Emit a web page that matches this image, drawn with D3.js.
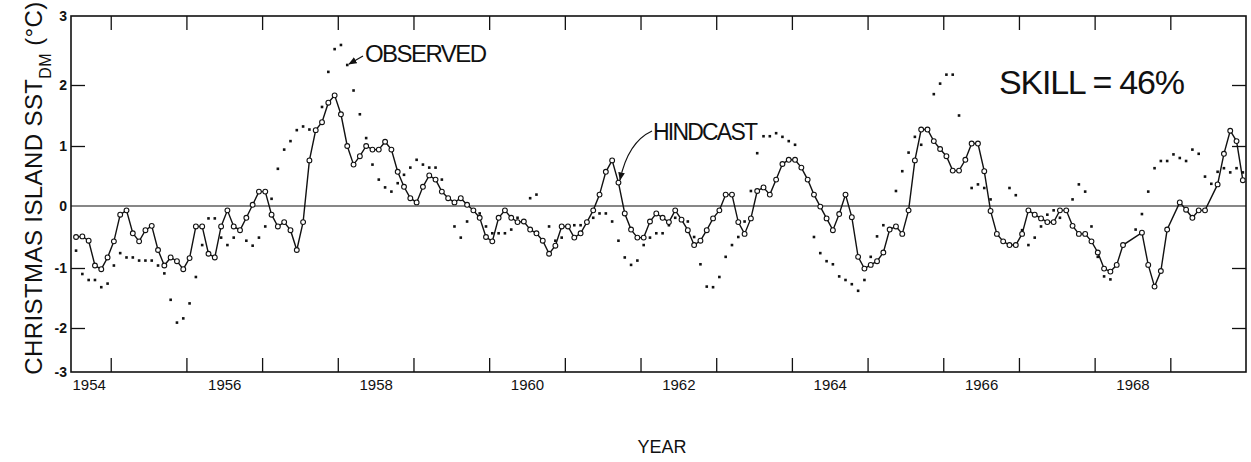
<!DOCTYPE html>
<html>
<head>
<meta charset="utf-8">
<script src="https://cdn.jsdelivr.net/npm/d3@7"></script>
<style>
    body { margin: 0; background: #fff; }
    svg { display: block; }
    text { font-family: "Liberation Sans", Arial, sans-serif; fill: #111; }
</style>
</head>
<body>
<div id="chart"></div>
<script>
// monthly values, Jan 1954 .. Jun 1969 (null = not visible in the figure)
const startYear = 1954;

const hindcast = [
    -0.50, -0.49, -0.56, -0.96, -1.02, -0.83, -0.57, -0.14, -0.07, -0.44, -0.57, -0.39,
    -0.32, -0.71, -0.96, -0.83, -0.89, -1.02, -0.84, -0.33, -0.33, -0.77, -0.83, -0.33,
    -0.07, -0.33, -0.39, -0.19, 0.02, 0.24, 0.24, -0.14, -0.33, -0.26, -0.39, -0.71,
    -0.26, 0.76, 1.26, 1.39, 1.71, 1.83, 1.52, 1.00, 0.69, 0.83, 1.00, 0.94,
    0.94, 1.07, 0.94, 0.57, 0.32, 0.13, 0.06, 0.32, 0.51, 0.44, 0.24, 0.13,
    0.06, 0.13, 0.02, -0.07, -0.19, -0.50, -0.57, -0.19, -0.07, -0.19, -0.26, -0.25,
    -0.38, -0.44, -0.56, -0.77, -0.64, -0.33, -0.33, -0.51, -0.44, -0.26, -0.07, 0.19,
    0.57, 0.76, 0.39, -0.12, -0.38, -0.51, -0.51, -0.25, -0.12, -0.19, -0.26, -0.07,
    -0.22, -0.39, -0.63, -0.56, -0.39, -0.20, -0.07, 0.19, 0.19, -0.26, -0.45, -0.20,
    0.25, 0.31, 0.19, 0.44, 0.70, 0.77, 0.77, 0.64, 0.44, 0.19, -0.01, -0.20,
    -0.39, -0.13, 0.19, -0.18, -0.82, -1.01, -0.95, -0.89, -0.75, -0.38, -0.33, -0.45,
    -0.07, 0.76, 1.27, 1.27, 1.08, 0.95, 0.83, 0.59, 0.59, 0.77, 1.04, 1.04,
    0.58, -0.08, -0.45, -0.57, -0.63, -0.63, -0.45, -0.07, -0.14, -0.20, -0.26, -0.26,
    -0.07, -0.07, -0.32, -0.45, -0.45, -0.57, -0.75, -1.01, -1.06, -0.95, -0.63, null,
    null, -0.43, -0.95, -1.31, -1.05, -0.38, null, 0.06, -0.06, -0.19, -0.07, -0.07,
    null, 0.36, 0.87, 1.25, 1.08, 0.43
];

const observed = [
    -0.72, -1.10, -1.20, -1.20, -1.32, -1.26, -0.96, -0.76, -0.83, -0.83, -0.88, -0.88,
    -0.88, -0.96, -1.09, -1.53, -1.91, -1.84, -1.59, -1.15, -0.63, -0.20, -0.20, -0.51,
    -0.63, -0.51, null, -0.56, -0.64, -0.51, -0.33, 0.12, 0.62, 0.94, 1.08, 1.26,
    1.32, 1.27, null, 1.64, 2.19, 2.52, 2.58, 2.29, 1.91, 1.52, 1.13, 0.69,
    0.44, 0.31, 0.24, 0.38, 0.52, 0.64, 0.77, 0.69, 0.64, 0.64, 0.44, 0.13,
    -0.33, -0.51, -0.25, -0.07, -0.12, -0.33, -0.44, -0.44, -0.44, -0.38, -0.19, null,
    0.13, 0.19, null, -0.33, -0.56, -0.51, null, -0.31, -0.31, -0.26, -0.19, -0.12,
    -0.12, -0.25, -0.56, -0.83, -0.95, -0.88, -0.63, -0.51, -0.44, -0.44, -0.31, -0.19,
    null, -0.25, -0.50, -0.94, -1.31, -1.32, -1.15, -0.82, -0.63, -0.50, -0.25, 0.25,
    0.88, 1.16, 1.16, 1.21, 1.15, 1.08, 1.02, null, null, -0.50, -0.76, -0.89,
    -0.94, -1.14, -1.20, -1.27, -1.38, -1.20, -0.82, -0.49, -0.31, null, 0.25, 0.58,
    0.89, 1.15, 1.02, null, 1.85, 2.02, 2.15, 2.15, 1.50, null, 0.30, 0.36,
    0.30, 0.11, null, null, 0.30, 0.18, -0.39, -0.63, -0.51, -0.33, -0.14, -0.07,
    -0.19, null, 0.11, 0.36, 0.24, -0.33, -0.82, -1.14, -1.19, null, null, null,
    -0.38, -0.13, 0.24, 0.63, 0.75, 0.75, 0.86, 0.80, 0.75, 0.94, 0.87, 0.49,
    0.37, 0.57, 0.63, 0.56, 0.63, 0.56
];

const yTicks = [-3, -2, -1, 0, 1, 2, 3];
const xLabelYears = [1954, 1956, 1958, 1960, 1962, 1964, 1966, 1968];
const xTickYears = d3.range(1954.5, 1969, 1);

const width = 1251;
const height = 462;
const frame = { left: 71, right: 1246, top: 16, bottom: 372 };

// the printed axis is not quite even, so the scale follows the tick marks
const xScale = d3.scaleLinear().domain([1953.975, 1969.5]).range([frame.left, frame.right]);
const yScale = d3.scaleLinear()
    .domain(yTicks)
    .range([372, 328, 268, 206, 146, 85, 16]);

const monthToYear = i => startYear + (i + 0.5) / 12;

const svg = d3.select("#chart")
    .append("svg")
    .attr("width", width)
    .attr("height", height);

// frame
svg.append("rect")
    .attr("x", frame.left)
    .attr("y", frame.top)
    .attr("width", frame.right - frame.left)
    .attr("height", frame.bottom - frame.top)
    .attr("fill", "none")
    .attr("stroke", "#111")
    .attr("stroke-width", 1.6);

// zero line
svg.append("line")
    .attr("x1", frame.left).attr("x2", frame.right)
    .attr("y1", yScale(0)).attr("y2", yScale(0))
    .attr("stroke", "#111")
    .attr("stroke-width", 1.1);

// tick marks on all four sides, pointing inward
const tickStyle = g => {
    g.select(".domain").remove();
    g.selectAll(".tick line").attr("stroke", "#111").attr("stroke-width", 1.3);
    g.selectAll(".tick text").remove();
};

svg.append("g")
    .attr("transform", `translate(0,${frame.bottom})`)
    .call(d3.axisBottom(xScale).tickValues(xTickYears).tickSize(-14))
    .call(tickStyle);

svg.append("g")
    .attr("transform", `translate(0,${frame.top})`)
    .call(d3.axisTop(xScale).tickValues(xTickYears).tickSize(-14))
    .call(tickStyle);

svg.append("g")
    .attr("transform", `translate(${frame.left},0)`)
    .call(d3.axisLeft(yScale).tickValues([-2, -1, 1, 2]).tickSize(-14))
    .call(tickStyle);

svg.append("g")
    .attr("transform", `translate(${frame.right},0)`)
    .call(d3.axisRight(yScale).tickValues([-2, -1, 1, 2]).tickSize(-14))
    .call(tickStyle);

// tick labels
const yLabels = svg.append("g")
    .attr("transform", `translate(${frame.left},0)`)
    .call(d3.axisLeft(yScale).tickValues(yTicks).tickSize(0).tickPadding(4)
        .tickFormat(d => d < 0 ? "-" + Math.abs(d) : d));
yLabels.select(".domain").remove();
yLabels.selectAll(".tick text")
    .style("font-family", "Liberation Sans, Arial, sans-serif")
    .style("font-size", "14px")
    .style("font-weight", "bold")
    .attr("fill", "#111");

const xLabels = svg.append("g")
    .attr("transform", `translate(0,${frame.bottom})`)
    .call(d3.axisBottom(xScale).tickValues(xLabelYears).tickSize(0).tickPadding(7)
        .tickFormat(d3.format("d")));
xLabels.select(".domain").remove();
xLabels.selectAll(".tick text")
    .style("font-family", "Liberation Sans, Arial, sans-serif")
    .style("font-size", "15px")
    .attr("fill", "#111")
    .filter(d => d === 1954)
    .attr("text-anchor", "start")
    .attr("x", frame.left - xScale(1954) + 1);

// observed: small dots
const obsPoints = observed
    .map((v, i) => ({ t: monthToYear(i), v }))
    .filter(d => d.v !== null);

svg.append("g")
    .selectAll("rect")
    .data(obsPoints)
    .join("rect")
    .attr("x", d => xScale(d.t) - 1.3)
    .attr("y", d => yScale(d.v) - 1.3)
    .attr("width", 2.6)
    .attr("height", 2.6)
    .attr("fill", "#111");

// hindcast: line with open circles
const hindPoints = hindcast
    .map((v, i) => ({ t: monthToYear(i), v }))
    .filter(d => d.v !== null);

svg.append("path")
    .datum(hindPoints)
    .attr("fill", "none")
    .attr("stroke", "#111")
    .attr("stroke-width", 1.4)
    .attr("d", d3.line().x(d => xScale(d.t)).y(d => yScale(d.v)));

svg.append("g")
    .selectAll("circle")
    .data(hindPoints)
    .join("circle")
    .attr("cx", d => xScale(d.t))
    .attr("cy", d => yScale(d.v))
    .attr("r", 2.4)
    .attr("fill", "#fff")
    .attr("stroke", "#111")
    .attr("stroke-width", 1.1);

// annotations
svg.append("defs").append("marker")
    .attr("id", "arrow")
    .attr("viewBox", "0 0 10 10")
    .attr("refX", 9).attr("refY", 5)
    .attr("markerWidth", 7).attr("markerHeight", 7)
    .attr("orient", "auto")
    .append("path")
    .attr("d", "M0,1 L10,5 L0,9 Z")
    .attr("fill", "#111");

svg.append("path")
    .attr("d", "M363,56 L349,64")
    .attr("fill", "none")
    .attr("stroke", "#111")
    .attr("stroke-width", 1.2)
    .attr("marker-end", "url(#arrow)");

svg.append("path")
    .attr("d", "M652,131 Q628,142 620,180")
    .attr("fill", "none")
    .attr("stroke", "#111")
    .attr("stroke-width", 1.2)
    .attr("marker-end", "url(#arrow)");

svg.append("text")
    .attr("x", 365).attr("y", 62)
    .attr("textLength", 122)
    .style("font-size", "24px")
    .text("OBSERVED");

svg.append("text")
    .attr("x", 653).attr("y", 140)
    .attr("textLength", 105)
    .style("font-size", "23px")
    .text("HINDCAST");

svg.append("text")
    .attr("x", 999).attr("y", 94)
    .attr("textLength", 186)
    .style("font-size", "34px")
    .text("SKILL = 46%");

svg.append("text")
    .attr("x", 662).attr("y", 453)
    .attr("text-anchor", "middle")
    .style("font-size", "18px")
    .text("YEAR");

const yTitle = svg.append("text")
    .attr("transform", "translate(42,188) rotate(-90)")
    .attr("text-anchor", "middle")
    .style("font-size", "24px")
    .style("letter-spacing", "0.4px");
yTitle.append("tspan").text("CHRISTMAS  ISLAND  SST");
yTitle.append("tspan").attr("baseline-shift", "sub").style("font-size", "16px").text("DM");
yTitle.append("tspan").text(" (°C)");
</script>
</body>
</html>
